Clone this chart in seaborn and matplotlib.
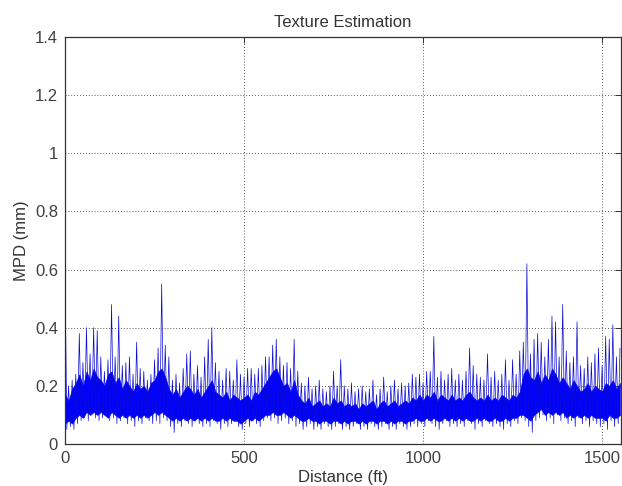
import numpy as np
import pandas as pd
import matplotlib
matplotlib.use("Agg")
import matplotlib.pyplot as plt
import seaborn as sns

# upper excursions of the MPD trace, read every 10 ft (0 .. 1550)
peak_mpd = [
    0.60, 0.20, 0.22, 0.24, 0.38, 0.28, 0.40, 0.31, 0.40, 0.39,
    0.30, 0.25, 0.29, 0.48, 0.30, 0.44, 0.27, 0.28, 0.30, 0.24,
    0.35, 0.26, 0.25, 0.22, 0.24, 0.29, 0.33, 0.55, 0.34, 0.30,
    0.22, 0.24, 0.21, 0.26, 0.31, 0.32, 0.24, 0.27, 0.23, 0.30,
    0.36, 0.40, 0.28, 0.25, 0.22, 0.26, 0.25, 0.22, 0.29, 0.24,
    0.23, 0.26, 0.26, 0.24, 0.26, 0.27, 0.30, 0.30, 0.34, 0.36,
    0.30, 0.27, 0.28, 0.26, 0.36, 0.25, 0.21, 0.20, 0.23, 0.19,
    0.20, 0.22, 0.19, 0.18, 0.20, 0.25, 0.20, 0.29, 0.20, 0.19,
    0.21, 0.18, 0.19, 0.20, 0.18, 0.19, 0.22, 0.17, 0.19, 0.23,
    0.18, 0.20, 0.22, 0.19, 0.21, 0.20, 0.21, 0.24, 0.23, 0.24,
    0.21, 0.25, 0.25, 0.37, 0.23, 0.25, 0.22, 0.24, 0.26, 0.22,
    0.24, 0.22, 0.25, 0.33, 0.27, 0.24, 0.23, 0.22, 0.31, 0.23,
    0.25, 0.22, 0.24, 0.29, 0.22, 0.29, 0.24, 0.32, 0.35, 0.62,
    0.31, 0.36, 0.38, 0.35, 0.30, 0.36, 0.44, 0.42, 0.30, 0.48,
    0.32, 0.28, 0.30, 0.42, 0.27, 0.26, 0.30, 0.28, 0.31, 0.33,
    0.27, 0.37, 0.36, 0.41, 0.30, 0.33,
]

# lower excursions, read every 10 ft (5 .. 1545)
trough_mpd = [
    0.05, 0.06, 0.05, 0.07, 0.08, 0.09, 0.08, 0.10, 0.09, 0.08,
    0.09, 0.10, 0.08, 0.09, 0.07, 0.08, 0.09, 0.07, 0.08, 0.06,
    0.08, 0.07, 0.09, 0.08, 0.07, 0.08, 0.07, 0.09, 0.08, 0.06,
    0.04, 0.07, 0.06, 0.08, 0.07, 0.06, 0.08, 0.07, 0.06, 0.07,
    0.06, 0.08, 0.07, 0.05, 0.07, 0.06, 0.07, 0.08, 0.06, 0.05,
    0.07, 0.06, 0.08, 0.07, 0.06, 0.08, 0.09, 0.08, 0.09, 0.07,
    0.08, 0.09, 0.07, 0.08, 0.06, 0.07, 0.05, 0.06, 0.07, 0.05,
    0.06, 0.05, 0.07, 0.06, 0.05, 0.06, 0.07, 0.05, 0.06, 0.05,
    0.06, 0.07, 0.05, 0.06, 0.05, 0.07, 0.06, 0.05, 0.06, 0.07,
    0.05, 0.06, 0.05, 0.07, 0.06, 0.05, 0.06, 0.07, 0.06, 0.07,
    0.06, 0.08, 0.07, 0.06, 0.05, 0.07, 0.08, 0.06, 0.07, 0.06,
    0.07, 0.06, 0.08, 0.07, 0.05, 0.07, 0.06, 0.08, 0.07, 0.06,
    0.07, 0.06, 0.05, 0.07, 0.06, 0.08, 0.07, 0.09, 0.08, 0.06,
    0.04, 0.08, 0.09, 0.10, 0.08, 0.09, 0.07, 0.10, 0.08, 0.09,
    0.07, 0.08, 0.06, 0.09, 0.07, 0.08, 0.06, 0.08, 0.07, 0.06,
    0.07, 0.05, 0.08, 0.06, 0.07,
]

# solid core of the trace, top and bottom edges, read every 10 ft (0 .. 1550)
core_top = [
    0.17, 0.15, 0.19, 0.21, 0.24, 0.20, 0.25, 0.22, 0.26, 0.23,
    0.22, 0.20, 0.24, 0.25, 0.21, 0.23, 0.19, 0.22, 0.20, 0.18,
    0.21, 0.19, 0.20, 0.18, 0.21, 0.22, 0.25, 0.26, 0.23, 0.19,
    0.17, 0.19, 0.16, 0.18, 0.20, 0.19, 0.17, 0.19, 0.16, 0.18,
    0.20, 0.22, 0.18, 0.17, 0.16, 0.18, 0.15, 0.17, 0.16, 0.15,
    0.16, 0.17, 0.15, 0.18, 0.17, 0.19, 0.21, 0.23, 0.25, 0.26,
    0.23, 0.20, 0.21, 0.18, 0.22, 0.17, 0.15, 0.14, 0.16, 0.13,
    0.14, 0.15, 0.13, 0.14, 0.13, 0.16, 0.14, 0.15, 0.13, 0.14,
    0.13, 0.14, 0.12, 0.14, 0.13, 0.14, 0.15, 0.12, 0.14, 0.15,
    0.13, 0.14, 0.15, 0.13, 0.14, 0.15, 0.14, 0.16, 0.15, 0.17,
    0.15, 0.17, 0.16, 0.18, 0.15, 0.17, 0.16, 0.15, 0.17, 0.15,
    0.16, 0.15, 0.17, 0.18, 0.16, 0.15, 0.16, 0.15, 0.17, 0.15,
    0.16, 0.15, 0.17, 0.16, 0.15, 0.17, 0.16, 0.18, 0.24, 0.26,
    0.23, 0.22, 0.25, 0.21, 0.24, 0.22, 0.26, 0.24, 0.21, 0.23,
    0.21, 0.19, 0.22, 0.20, 0.18, 0.19, 0.21, 0.18, 0.20, 0.19,
    0.18, 0.21, 0.20, 0.22, 0.19, 0.21,
]
core_bottom = [
    0.07, 0.08, 0.07, 0.09, 0.10, 0.09, 0.11, 0.10, 0.11, 0.10,
    0.11, 0.10, 0.09, 0.11, 0.10, 0.09, 0.10, 0.09, 0.10, 0.09,
    0.10, 0.09, 0.10, 0.09, 0.10, 0.11, 0.10, 0.11, 0.10, 0.09,
    0.08, 0.09, 0.08, 0.09, 0.08, 0.09, 0.08, 0.09, 0.08, 0.09,
    0.08, 0.09, 0.08, 0.08, 0.09, 0.08, 0.09, 0.08, 0.08, 0.07,
    0.08, 0.09, 0.08, 0.09, 0.08, 0.09, 0.10, 0.10, 0.11, 0.10,
    0.10, 0.11, 0.10, 0.09, 0.10, 0.09, 0.08, 0.08, 0.09, 0.08,
    0.08, 0.07, 0.08, 0.08, 0.07, 0.08, 0.08, 0.07, 0.08, 0.07,
    0.08, 0.08, 0.07, 0.08, 0.07, 0.08, 0.08, 0.07, 0.08, 0.08,
    0.07, 0.08, 0.07, 0.08, 0.08, 0.07, 0.08, 0.08, 0.09, 0.08,
    0.08, 0.09, 0.08, 0.09, 0.08, 0.08, 0.09, 0.08, 0.09, 0.08,
    0.09, 0.08, 0.09, 0.08, 0.08, 0.09, 0.08, 0.09, 0.08, 0.08,
    0.09, 0.08, 0.08, 0.09, 0.08, 0.09, 0.09, 0.10, 0.10, 0.09,
    0.08, 0.10, 0.11, 0.12, 0.10, 0.11, 0.10, 0.11, 0.10, 0.11,
    0.09, 0.10, 0.09, 0.10, 0.09, 0.10, 0.09, 0.10, 0.09, 0.09,
    0.09, 0.08, 0.10, 0.09, 0.09, 0.10,
]

peak_ft = np.arange(0, 1551, 10)
trough_ft = np.arange(5, 1546, 10)

df = pd.DataFrame({
    "Distance": np.concatenate([peak_ft, trough_ft]),
    "MPD": np.concatenate([peak_mpd, trough_mpd]),
}).sort_values("Distance")

x_ticks = [0, 500, 1000, 1500]
y_ticks = [0, 0.2, 0.4, 0.6, 0.8, 1.0, 1.2, 1.4]
y_labels = ["0", "0.2", "0.4", "0.6", "0.8", "1", "1.2", "1.4"]

sns.set_theme(style="white")
plt.rcParams["font.family"] = ["Liberation Sans", "DejaVu Sans"]

fig = plt.figure(figsize=(6.22, 4.86), dpi=100)
ax = fig.add_axes([0.1045, 0.0864, 0.894, 0.8375])

ax.fill_between(peak_ft, core_bottom, core_top, color="#0000ff", linewidth=0.4,
                edgecolor="#0000ff", zorder=2)
sns.lineplot(data=df, x="Distance", y="MPD", ax=ax, sort=False, estimator=None,
             color="#0a0ad8", linewidth=0.5, zorder=3)

ax.set_xlim(0, 1553)
ax.set_ylim(0, 1.4)
ax.set_xticks(x_ticks)
ax.set_xticklabels([str(t) for t in x_ticks])
ax.set_yticks(y_ticks)
ax.set_yticklabels(y_labels)
ax.grid(True, linestyle=(0, (1, 2.5)), color="#222222", linewidth=0.6)
ax.tick_params(direction="in", length=4, width=0.7, color="#333333", top=True,
               right=True, labelsize=12, labelcolor="#404040", pad=5)
for s in ax.spines.values():
    s.set_visible(True)
    s.set_color("#333333")
    s.set_linewidth(0.9)

ax.set_title("Texture Estimation", fontsize=12, color="#333333", pad=7)
ax.set_xlabel("Distance (ft)", fontsize=12, color="#333333", labelpad=3)
ax.set_ylabel("MPD (mm)", fontsize=12, color="#333333", labelpad=4)

fig.savefig("out.png", dpi=100)
